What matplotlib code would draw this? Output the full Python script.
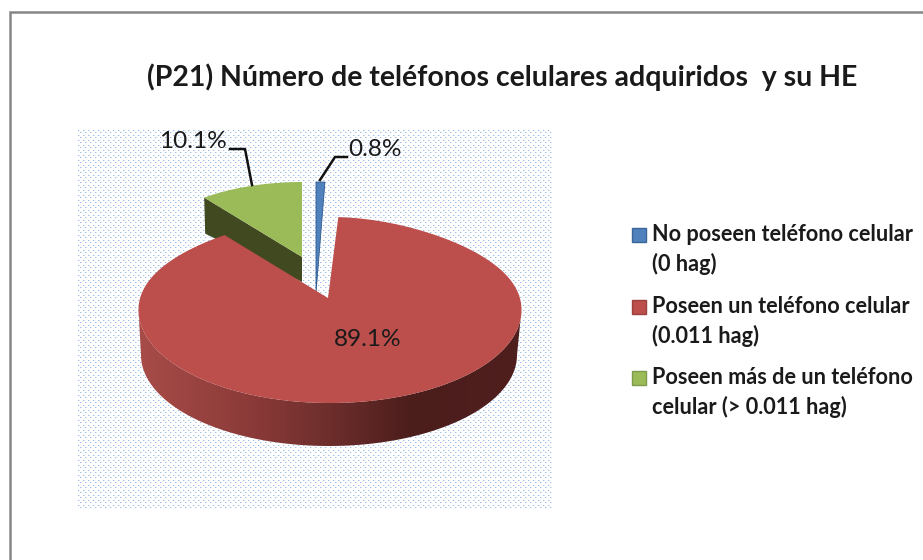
### plot.py
# 3D-looking pie chart, drawn in pixel coordinates so it lines up with the reference

import numpy as np
import matplotlib
matplotlib.use("Agg")
import matplotlib.pyplot as plt
from matplotlib.colors import LinearSegmentedColormap
from matplotlib.patches import Polygon, Rectangle

plt.rcParams["font.family"] = ["Lato", "DejaVu Sans"]

# data
categories = ["No poseen teléfono celular\n(0 hag)",
              "Poseen un teléfono celular\n(0.011 hag)",
              "Poseen más de un teléfono\ncelular (> 0.011 hag)"]
values = [0.8, 89.1, 10.1]
title = "(P21) Número de teléfonos celulares adquiridos  y su HE"

# slice angles, clockwise from 12 o'clock
edges = np.cumsum([0] + values) / sum(values) * 360
start_angle = edges[:-1]
end_angle = edges[1:]

# colours
top_colors = ["#4f81bd", "#bc4e4c", "#9bbb59"]
edge_colors = ["#3a6597", "#9c403e", "#7f9a48"]
green_wall = "#40491f"
blue_wall = "#2f5a8f"
bg_blue = "#9dbce6"
text_color = "#1a1a1a"

W, H = 923, 560


def rim(cx, cy, a, b, t0, t1, n=200, squeeze=0.0):
    t = np.radians(np.linspace(t0, t1, n))
    # squeeze narrows the far side a little, like the perspective in the original
    far = np.clip(np.cos(t), 0, 1) ** 3
    return np.column_stack([cx + a * np.sin(t) * (1 - squeeze * far), cy - b * np.cos(t)])


fig = plt.figure(figsize=(W / 100, H / 100), dpi=100)
ax = fig.add_axes([0, 0, 1, 1])

# dotted plot area, staggered dots
yy, xx = np.indices((380, 474))
dots = (((xx % 5 == 0) & (yy % 5 == 0)) | ((xx % 5 == 2) & (yy % 5 == 2))).astype(float)
dots = np.maximum(dots, 0.35 * np.roll(dots, 1, axis=1))
dot_cmap = LinearSegmentedColormap.from_list("dots", ["white", bg_blue])
ax.imshow(dots, extent=(78, 552, 510, 130), cmap=dot_cmap, aspect="auto",
          interpolation="nearest", zorder=1)

# green slice, pulled out
green_rim = rim(302, 262, 165, 80, start_angle[2], 360)
green_apex = (302, 257)
ax.add_patch(Polygon([green_rim[0], green_apex, (302, 282), (green_rim[0][0] + 1, green_rim[0][1] + 36)],
                     fc=green_wall, ec="none", zorder=2))
ax.add_patch(Polygon(np.vstack([green_apex, green_rim]), fc=top_colors[2], ec="none", zorder=3))

# blue slice, pulled out
blue_rim = rim(316, 270, 178, 88, start_angle[0], end_angle[0])
ax.add_patch(Polygon(np.vstack([(316, 293), blue_rim]), fc=top_colors[0], ec=blue_wall, lw=0.6, zorder=3))

# red slice wall with the left-to-right shading
red_cx, red_cy, red_a, red_b = 330, 310, 191.5, 93
wall = np.vstack([rim(red_cx, red_cy, red_a, red_b, 90, 270),
                  rim(329, 355, 188, 91, 270, 90)])
wall_patch = Polygon(wall, fc="none", ec="none", zorder=4)
ax.add_patch(wall_patch)
wall_cmap = LinearSegmentedColormap.from_list(
    "wall", [(0, "#a84c48"), (0.3, "#8a3a38"), (0.5, "#6d2e2c"), (0.72, "#4b1d1b"), (1, "#4f1f1e")])
im = ax.imshow(np.linspace(0, 1, 256)[None, :], extent=(138, 521, 450, 300), cmap=wall_cmap,
               aspect="auto", zorder=4)
im.set_clip_path(wall_patch)

# red slice top
red_rim = rim(red_cx, red_cy, red_a, red_b, start_angle[1], end_angle[1], 500, squeeze=0.137)
ax.add_patch(Polygon(np.vstack([(328, 298), red_rim]), fc=top_colors[1], ec="none", zorder=5))

# data labels and leader lines
ax.text(193, 142, f"{values[2]}%", fontsize=17.6, color=text_color, ha="center", va="center", zorder=7)
ax.text(375, 150, f"{values[0]}%", fontsize=17.6, color=text_color, ha="center", va="center", zorder=7)
ax.text(368, 339, f"{values[1]}%", fontsize=17.6, color=text_color, ha="center", va="center", zorder=7)
ax.plot([230, 245, 252], [149, 149, 185], color="#111111", lw=1.8, zorder=6)
ax.plot([347, 335, 320], [157, 157, 180], color="#111111", lw=1.8, zorder=6)

# title
ax.text(502, 77, title, fontsize=20.5, fontweight="bold", color=text_color, ha="center", va="center", zorder=7)

# legend, each entry is two lines with the swatch next to the first one
legend_y = [235, 307, 378]
for label, y, c, e in zip(categories, legend_y, top_colors, edge_colors):
    ax.add_patch(Rectangle((632, y - 7), 14, 14, fc=c, ec=e, lw=1, zorder=7))
    ax.text(652, y - 11, label, fontsize=15.6, fontweight="bold", color=text_color,
            ha="left", va="top", linespacing=1.42, zorder=7)

# chart border (right and bottom are cut off in the reference)
ax.plot([9.5, 9.5, W], [H, 11.5, 11.5], color="#868686", lw=1.8, zorder=8, solid_joinstyle="miter")

ax.set_xlim(0, W)
ax.set_ylim(H, 0)
ax.axis("off")

fig.savefig("out.png", dpi=100)
